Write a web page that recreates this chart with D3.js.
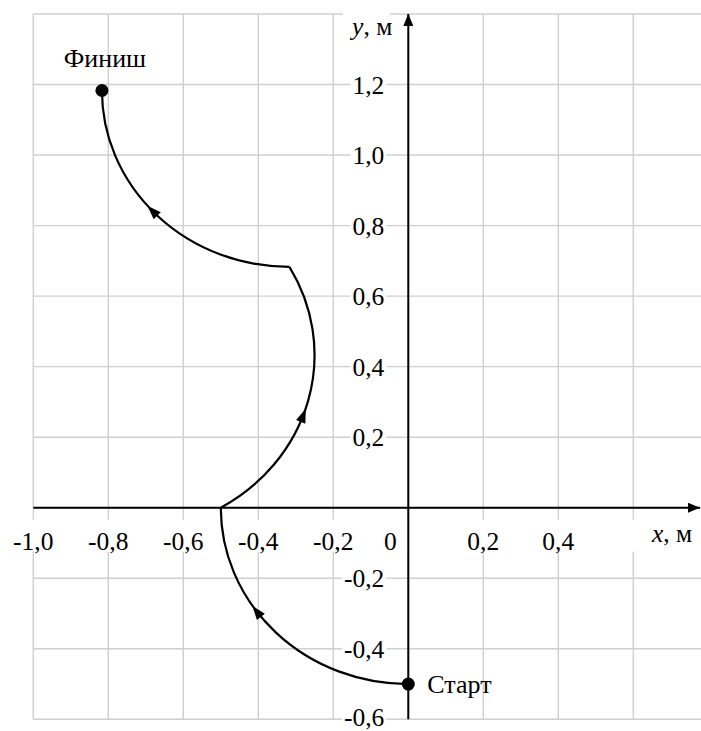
<!DOCTYPE html>
<html>
<head>
<meta charset="utf-8">
<script src="https://cdn.jsdelivr.net/npm/d3@7"></script>
<style>
  body { margin: 0; background: #fff; }
  text { font-family: 'Liberation Serif', 'DejaVu Serif', serif; }
</style>
</head>
<body>
<div id="chart"></div>
<script>
// Grid / tick values
const xGridValues = [-1.0, -0.8, -0.6, -0.4, -0.2, 0, 0.2, 0.4, 0.6];
const yGridValues = [-0.6, -0.4, -0.2, 0, 0.2, 0.4, 0.6, 0.8, 1.0, 1.2, 1.4];
const xTickLabels = [-1.0, -0.8, -0.6, -0.4, -0.2, 0, 0.2, 0.4];
const yTickLabels = [-0.6, -0.4, -0.2, 0.2, 0.4, 0.6, 0.8, 1.0, 1.2];

// Trajectory: three arcs (centre, radius, start/end angle in degrees)
const arcCenterX = [0, -0.75, -0.317];
const arcCenterY = [0, 0.433, 1.183];
const arcRadius = [0.5, 0.5, 0.5];
const arcStartDeg = [270, -60, 270];
const arcEndDeg = [180, 30, 180];
const arrowDeg = [216, -20, 223];

// Marked points
const pointNames = ['Старт', 'Финиш'];
const pointX = [0, -0.817];
const pointY = [-0.5, 1.183];

const W = 701, H = 731;
const FONT = "'Liberation Serif', 'DejaVu Serif', serif";
const svg = d3.select('#chart').append('svg').attr('width', W).attr('height', H)
  .attr('font-family', FONT);

const x = d3.scaleLinear().domain([-1.0, 0.6]).range([33.3, 633.3]);
const y = d3.scaleLinear().domain([-0.6, 1.4]).range([719.3, 14]);
const xRight = W;

// grid
const grid = svg.append('g').attr('stroke', '#cfcfcf').attr('stroke-width', 1.4);
grid.selectAll('.gv').data(xGridValues).enter().append('line')
  .attr('x1', d => x(d)).attr('x2', d => x(d))
  .attr('y1', y(1.4)).attr('y2', y(-0.6));
grid.selectAll('.gh').data(yGridValues).enter().append('line')
  .attr('x1', x(-1.0)).attr('x2', xRight)
  .attr('y1', d => y(d)).attr('y2', d => y(d));

const fmt = v => (v < 0 ? '-' : '') + Math.abs(v).toFixed(1).replace('.', ',');

// white band behind x tick labels
svg.append('rect').attr('x', 0).attr('y', y(-0.034)).attr('width', W)
  .attr('height', y(-0.125) - y(-0.034)).attr('fill', '#fff');

// axes
svg.append('defs').append('marker')
  .attr('id', 'axarrow').attr('viewBox', '0 0 12 10')
  .attr('refX', 12).attr('refY', 5)
  .attr('markerWidth', 12).attr('markerHeight', 10)
  .attr('markerUnits', 'userSpaceOnUse').attr('orient', 'auto')
  .append('path').attr('d', 'M0,0 L12,5 L0,10 Z').attr('fill', '#000');

svg.append('line')
  .attr('x1', x(-1.0)).attr('x2', xRight - 1)
  .attr('y1', y(0)).attr('y2', y(0))
  .attr('stroke', '#000').attr('stroke-width', 2)
  .attr('marker-end', 'url(#axarrow)');
svg.append('line')
  .attr('x1', x(0)).attr('x2', x(0))
  .attr('y1', y(-0.6)).attr('y2', y(1.4))
  .attr('stroke', '#000').attr('stroke-width', 2)
  .attr('marker-end', 'url(#axarrow)');

const fs = 25.5;

// x tick labels
svg.selectAll('.xl').data(xTickLabels).enter().append('text')
  .attr('font-family', FONT)
  .attr('x', d => d === 0 ? x(0) - 18 : x(d))
  .attr('y', y(0) + 42)
  .attr('text-anchor', 'middle')
  .attr('font-size', fs)
  .text(d => d === 0 ? '0' : fmt(d));

// y tick labels with white background
const yl = svg.selectAll('.yl').data(yTickLabels).enter().append('g');
yl.append('text')
  .attr('font-family', FONT)
  .attr('x', x(0) - 24)
  .attr('y', d => Math.min(y(d) + 9, H - 5))
  .attr('text-anchor', 'end')
  .attr('font-size', fs)
  .text(d => fmt(d));
yl.each(function() {
  const t = d3.select(this).select('text');
  const b = t.node().getBBox();
  d3.select(this).insert('rect', 'text')
    .attr('x', b.x - 2).attr('y', b.y).attr('width', b.width + 4).attr('height', b.height)
    .attr('fill', '#fff');
});

// axis titles
svg.append('rect').attr('x', 343).attr('y', 6).attr('width', 47).attr('height', 34).attr('fill', '#fff');
const yt = svg.append('text').attr('font-family', FONT)
  .attr('x', x(0) - 16).attr('y', 35).attr('text-anchor', 'end').attr('font-size', fs);
yt.append('tspan').attr('font-style', 'italic').text('y');
yt.append('tspan').text(', м');

svg.append('rect').attr('x', 644).attr('y', 516).attr('width', 57).attr('height', 41).attr('fill', '#fff');
const xt = svg.append('text').attr('font-family', FONT)
  .attr('x', 652).attr('y', 542).attr('font-size', fs);
xt.append('tspan').attr('font-style', 'italic').text('x');
xt.append('tspan').text(', м');

// trajectory arcs
const rad = d => d * Math.PI / 180;
const rxPix = r => x(r) - x(0);
const ryPix = r => y(0) - y(r);

const traj = svg.append('g');
arcRadius.forEach((r, i) => {
  const cx = arcCenterX[i], cy = arcCenterY[i];
  const a0 = rad(arcStartDeg[i]), a1 = rad(arcEndDeg[i]);
  const sweep = arcEndDeg[i] < arcStartDeg[i] ? 1 : 0;
  const d = `M${x(cx + r * Math.cos(a0))},${y(cy + r * Math.sin(a0))}` +
    ` A${rxPix(r)},${ryPix(r)} 0 0 ${sweep} ${x(cx + r * Math.cos(a1))},${y(cy + r * Math.sin(a1))}`;
  traj.append('path').attr('d', d)
    .attr('fill', 'none').attr('stroke', '#000').attr('stroke-width', 2.2);

  // arrowhead
  const s = sweep ? -1 : 1;
  const t = rad(arrowDeg[i]);
  const px = x(cx + r * Math.cos(t)), py = y(cy + r * Math.sin(t));
  const dx = s * -Math.sin(t) * rxPix(r), dy = -s * Math.cos(t) * ryPix(r);
  const ang = Math.atan2(dy, dx) * 180 / Math.PI;
  traj.append('path')
    .attr('d', 'M7,0 L-7,-5 L-7,5 Z')
    .attr('fill', '#000')
    .attr('transform', `translate(${px},${py}) rotate(${ang})`);
});

// points
svg.selectAll('.pt').data(pointNames).enter().append('circle')
  .attr('cx', (d, i) => x(pointX[i])).attr('cy', (d, i) => y(pointY[i]))
  .attr('r', 6.5).attr('fill', '#000');

svg.append('text').attr('font-family', FONT)
  .attr('x', x(pointX[0]) + 19).attr('y', y(pointY[0]) + 9)
  .attr('font-size', 26).text(pointNames[0]);
svg.append('text').attr('font-family', FONT)
  .attr('x', x(pointX[1]) + 3).attr('y', y(pointY[1]) - 24)
  .attr('text-anchor', 'middle').attr('font-size', 26).text(pointNames[1]);
</script>
</body>
</html>
